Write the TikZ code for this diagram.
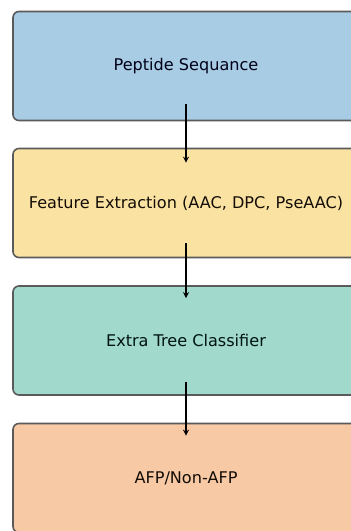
\documentclass[tikz,border=0pt]{standalone}
\usepackage{fontspec}
\setmainfont{DejaVu Sans}
\usetikzlibrary{arrows.meta}
\definecolor{bluebox}{HTML}{A7CCE4}
\definecolor{yellowbox}{HTML}{FAE2A2}
\definecolor{tealbox}{HTML}{A1D9CC}
\definecolor{orangebox}{HTML}{F7C9A5}
\definecolor{edgegray}{HTML}{5A5A5A}
\tikzset{
  stagebox/.style={draw=edgegray, line width=1.6pt, rounded corners=6pt,
    minimum width=346pt, minimum height=109pt, inner sep=0pt,
    font=\fontsize{16.1}{19}\selectfont},
  flowarrow/.style={line width=1.8pt, -{Stealth[length=6pt,width=6pt]}}
}
\begin{document}
\begin{tikzpicture}[x=1pt,y=1pt]
  \useasboundingbox (0,0) rectangle (351,-531);
  \clip (0,0) rectangle (351,-531);
  \node[stagebox, fill=bluebox, text=black!85!blue!60!black] (seq) at (186,-66) {Peptide Sequance};
  \node[stagebox, fill=yellowbox, text=black!90!brown] (feat) at (186,-203) {Feature Extraction (AAC, DPC, PseAAC)};
  \node[stagebox, fill=tealbox, text=black!85!teal] (clf) at (186,-340.5) {Extra Tree Classifier};
  \node[stagebox, fill=orangebox, text=black!90!brown] (out) at (186,-478) {AFP/Non-AFP};
  \draw[flowarrow] ([yshift=-38pt]seq.center -| 186,0) -- ([yshift=-15pt]feat.north -| 186,0);
  \draw[flowarrow] ([yshift=-40pt]feat.center -| 186,0) -- ([yshift=-13pt]clf.north -| 186,0);
  \draw[flowarrow] ([yshift=-41pt]clf.center -| 186,0) -- ([yshift=-13pt]out.north -| 186,0);
\end{tikzpicture}
\end{document}
